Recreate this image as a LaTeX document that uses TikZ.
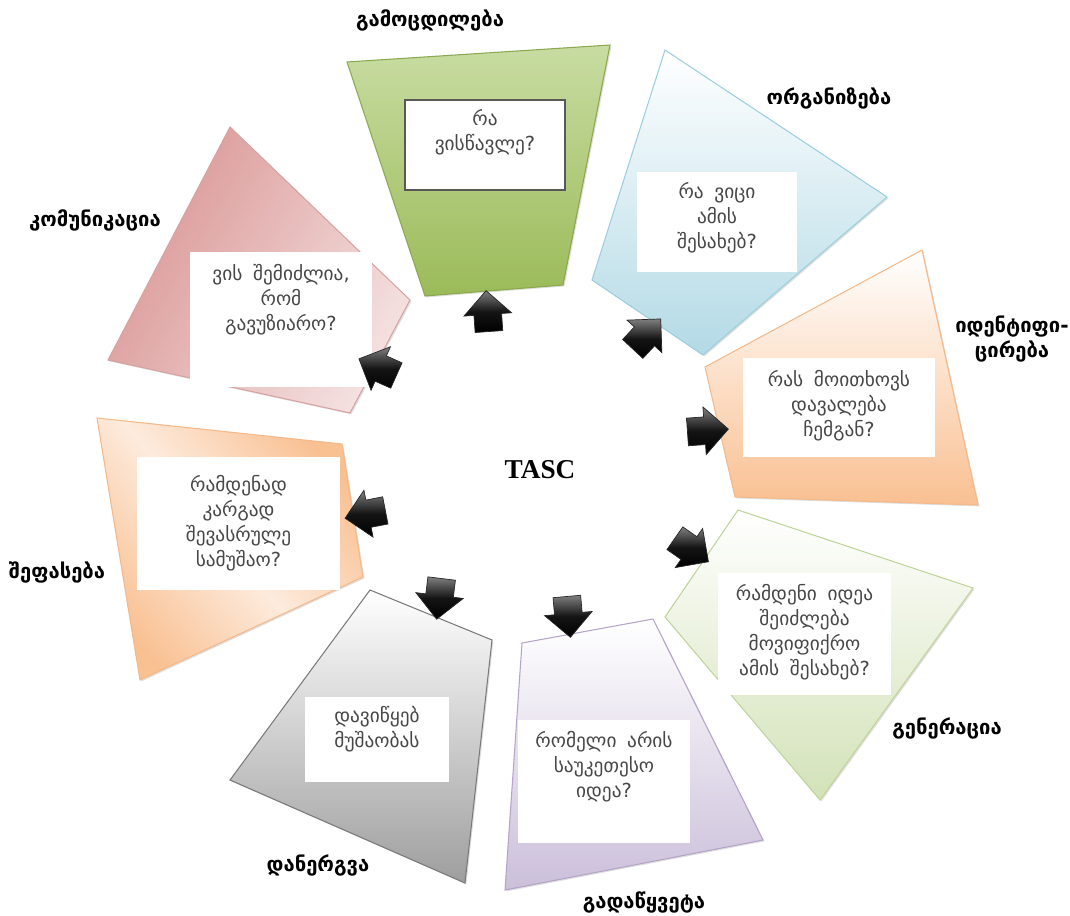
\documentclass[tikz,border=0pt]{standalone}
\usepackage{fontspec}
\setmainfont{DejaVu Sans}
\newfontfamily\tascfont{Liberation Serif}
\usetikzlibrary{positioning, shapes.arrows, shadows, calc, fit}

\definecolor{grnedge}{HTML}{8AA84E}
\definecolor{grntop}{HTML}{C8DCA2}
\definecolor{grnbot}{HTML}{9BBB59}
\definecolor{bluedge}{HTML}{9CCFDD}
\definecolor{blubot}{HTML}{B3DAE6}
\definecolor{oraedge}{HTML}{F5B888}
\definecolor{orabot}{HTML}{F9C092}
\definecolor{oralight}{HTML}{FDEBDD}
\definecolor{lgredge}{HTML}{BFD49A}
\definecolor{lgrbot}{HTML}{D3E2B8}
\definecolor{purpedge}{HTML}{B4A4C8}
\definecolor{purpbot}{HTML}{CBBFDA}
\definecolor{grayedge}{HTML}{7A7A7A}
\definecolor{graybot}{HTML}{9E9E9E}
\definecolor{pinkedge}{HTML}{D7A3A2}
\definecolor{pinkdark}{HTML}{D99694}
\definecolor{pinklight}{HTML}{F4E0E0}

\tikzset{
        stage-shape/.style={
            line width=0.6pt, drop shadow={opacity=0.25, shadow xshift=0.8pt, shadow yshift=-0.8pt}
        },
        stage-title/.style={
            font=\fontsize{11.5}{14.5}\selectfont\bfseries, align=center, text=black
        },
        question-box/.style={
            fill=white, inner sep=0pt, outer sep=0pt
        },
        question-text/.style={
            font=\fontsize{11}{14.2}\selectfont, align=center, text=black!72
        },
        out-arrow/.style={
            single arrow, inner xsep=0pt, inner ysep=0.27cm, minimum height=0.82cm,
            single arrow head extend=0.2cm, draw=black!85, line width=0.4pt,
            top color=black!50, bottom color=black, middle color=black!92
        },
}

\begin{document}
\begin{tikzpicture}[x=0.02cm, y=-0.02cm]

        \useasboundingbox (0,0) rectangle (1070,915);

        %STAGE SHAPES (clockwise from the top)
        \shade [stage-shape, draw=grnedge, top color=grntop, bottom color=grnbot]
            (347,62) -- (610,45) -- (563,285) -- (425,296) -- cycle;
        \shade [stage-shape, draw=bluedge, top color=white, bottom color=blubot]
            (665,50) -- (887,197) -- (703,355) -- (592,280) -- cycle;
        \shade [stage-shape, draw=oraedge, top color=white, bottom color=orabot]
            (922,250) -- (978,505) -- (735,497) -- (705,367) -- cycle;
        \shade [stage-shape, draw=lgredge, top color=white, bottom color=lgrbot]
            (738,510) -- (973,588) -- (820,800) -- (665,617) -- cycle;
        \shade [stage-shape, draw=purpedge, top color=white, bottom color=purpbot]
            (522,643) -- (653,619) -- (763,840) -- (505,890) -- cycle;
        \shade [stage-shape, draw=grayedge, top color=white, bottom color=graybot]
            (370,590) -- (492,640) -- (465,883) -- (230,780) -- cycle;
        \shade [stage-shape, draw=oraedge, top color=orabot, bottom color=orabot,
                middle color=oralight, shading angle=-50]
            (97,418) -- (342,444) -- (363,577) -- (140,680) -- cycle;
        \shade [stage-shape, draw=pinkedge, left color=pinkdark, right color=pinklight, shading angle=60]
            (230,127) -- (410,300) -- (350,413) -- (108,360) -- cycle;

        %QUESTION BOXES
        \node [question-box, draw=black!65, line width=1.2pt, fit={(405,100) (565,190)}] (box-exp) {};
        \node [question-box, fit={(637,172) (797,272)}] (box-org) {};
        \node [question-box, fit={(743,358) (935,457)}] (box-idn) {};
        \node [question-box, fit={(718,573) (891,695)}] (box-gen) {};
        \node [question-box, fit={(518,720) (690,843)}] (box-dec) {};
        \node [question-box, fit={(305,697) (449,782)}] (box-imp) {};
        \node [question-box, fit={(137,457) (340,590)}] (box-eva) {};
        \node [question-box, fit={(190,252) (372,387)}] (box-com) {};

        \node [question-text] (q-exp) at ($(box-exp.center)+(0,-13)$) {რა\\ვისწავლე?};
        \node [question-text] (q-org) at ($(box-org.center)+(0,-4)$)  {რა\;\;ვიცი\\ამის\\შესახებ?};
        \node [question-text] (q-idn) at ($(box-idn.center)+(0,-2)$)  {რას\;\;მოითხოვს\\დავალება\\ჩემგან?};
        \node [question-text] (q-gen) at ($(box-gen.center)+(0,-2)$)  {რამდენი\;\;იდეა\\შეიძლება\\მოვიფიქრო\\ამის\;\;შესახებ?};
        \node [question-text] (q-dec) at ($(box-dec.center)+(0,-15)$) {რომელი\;\;არის\\საუკეთესო\\იდეა?};
        \node [question-text] (q-imp) at ($(box-imp.center)+(0,-10)$) {დავიწყებ\\მუშაობას};
        \node [question-text] (q-eva) at ($(box-eva.center)+(0,0)$)   {რამდენად\\კარგად\\შევასრულე\\სამუშაო?};
        \node [question-text] (q-com) at ($(box-com.center)+(0,-20)$) {ვის\;\;შემიძლია,\\რომ\\გავუზიარო?};

        %STAGE NAMES
        \node [stage-title] (t-exp) at (430,20)   {გამოცდილება};
        \node [stage-title] (t-org) at (829,98)   {ორგანიზება};
        \node [stage-title] (t-idn) at (1012,339) {იდენტიფი-\\ცირება};
        \node [stage-title] (t-gen) at (947,728)  {გენერაცია};
        \node [stage-title] (t-dec) at (644,902)  {გადაწყვეტა};
        \node [stage-title] (t-imp) at (318,865)  {დანერგვა};
        \node [stage-title] (t-eva) at (57,572)   {შეფასება};
        \node [stage-title] (t-com) at (95,220)   {კომუნიკაცია};

        %CENTRE
        \node [font=\tascfont\fontsize{15.5}{18}\selectfont\bfseries] (tasc) at (540,470) {TASC};

        %ARROWS OUT OF THE CENTRE
        \node [out-arrow, rotate=94]  (ar-exp) at (488,318) {};
        \node [out-arrow, rotate=47]  (ar-org) at (642,339) {};
        \node [out-arrow, rotate=4]   (ar-idn) at (701,431) {};
        \node [out-arrow, rotate=-35] (ar-gen) at (686,546) {};
        \node [out-arrow, rotate=-85] (ar-dec) at (568,610) {};
        \node [out-arrow, rotate=-97] (ar-imp) at (440,592) {};
        \node [out-arrow, rotate=191] (ar-eva) at (372,513) {};
        \node [out-arrow, rotate=156] (ar-com) at (384,370) {};

    \end{tikzpicture}
\end{document}
